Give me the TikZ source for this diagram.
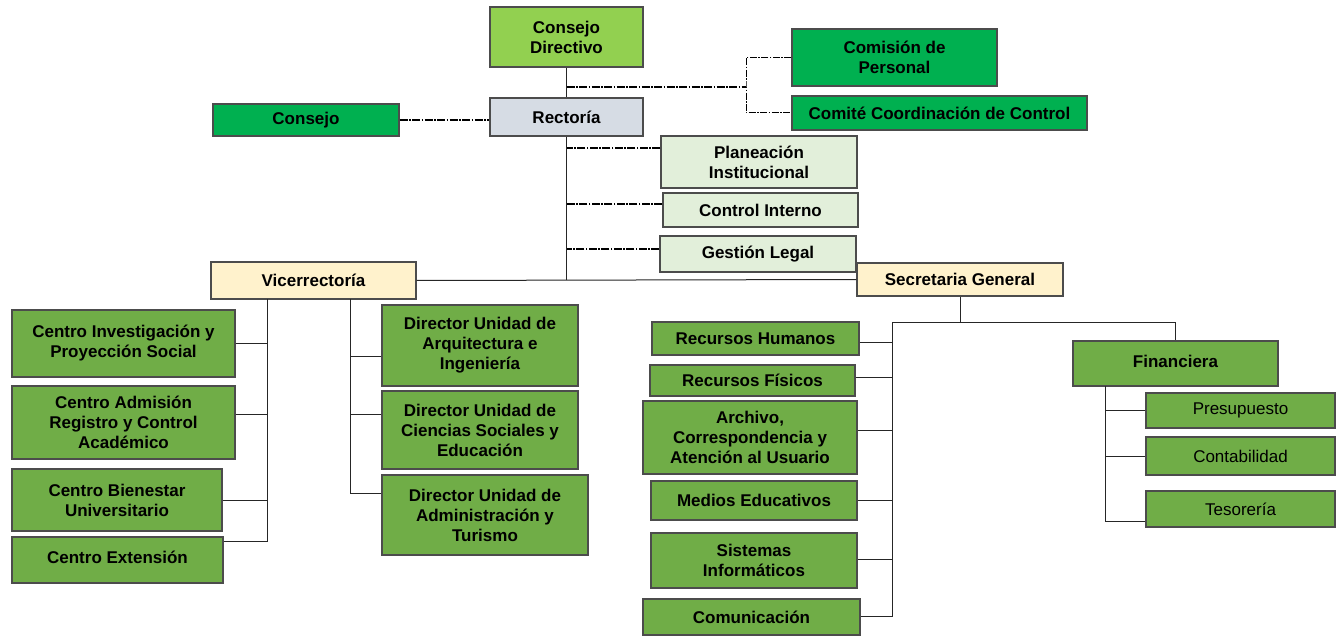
\documentclass[tikz,border=0pt]{standalone}
\usepackage{fontspec}
\setmainfont{Liberation Sans}
\definecolor{verde}{HTML}{70AD47}
\definecolor{verdeclaro}{HTML}{92D050}
\definecolor{verdefuerte}{HTML}{00B050}
\definecolor{gris}{HTML}{D6DCE4}
\definecolor{menta}{HTML}{E2EFDA}
\definecolor{crema}{HTML}{FFF2CC}
\begin{document}
\begin{tikzpicture}[x=1pt,y=-1pt,
  font=\fontsize{17}{20}\selectfont\bfseries,
  caja/.style={draw=black!70,line width=1.2pt,inner sep=0pt,align=center},
  unidad/.style={caja,fill=verde},
  directivo/.style={caja,fill=verdeclaro},
  externo/.style={caja,fill=verdefuerte},
  rector/.style={caja,fill=gris},
  apoyo/.style={caja,fill=menta},
  mando/.style={caja,fill=crema},
  enlace/.style={line width=1pt,black!85},
  asesor/.style={line width=2pt,dash pattern=on 8pt off 1.5pt on 1.5pt off 1.5pt},
  asesorfino/.style={line width=1pt,dash pattern=on 7pt off 1.5pt on 1.5pt off 1.5pt}]
\useasboundingbox (0,0) rectangle (1336,636);
% direccion
\node[directivo,minimum width=153pt,minimum height=60pt] (cd) at (566.5,37) {Consejo\\Directivo};
\node[rector,minimum width=153pt,minimum height=38pt] (rect) at (566.5,117) {Rectoría};
\node[externo,minimum width=186pt,minimum height=32pt] (consejo) at (306,120) {Consejo};
\node[externo,minimum width=205pt,minimum height=57pt] (comision) at (894.5,57.5) {Comisión de\\Personal};
\node[externo,minimum width=295pt,minimum height=34pt] (comite) at (939.5,113) {Comité Coordinación de Control};
\node[apoyo,minimum width=196pt,minimum height=52pt] (plan) at (759,162) {Planeación\\Institucional};
\node[apoyo,minimum width=195pt,minimum height=34pt] (ctrl) at (760.5,210) {Control Interno};
\node[apoyo,minimum width=196pt,minimum height=36pt] (legal) at (758,254) {Gestión Legal};
\node[mando,minimum width=205pt,minimum height=37pt] (vice) at (313.5,280.5) {Vicerrectoría};
\node[mando,minimum width=206pt,minimum height=33pt] (sg) at (960,279.5) {Secretaria General};
% vicerrectoria
\node[unidad,minimum width=223pt,minimum height=67pt] (cip) at (123.5,343.5) {Centro Investigación y\\Proyección Social};
\node[unidad,minimum width=223pt,minimum height=73pt] (cad) at (123.5,422.5) {Centro Admisión\\Registro y Control\\Académico};
\node[unidad,minimum width=210pt,minimum height=62pt] (cbu) at (117,500) {Centro Bienestar\\Universitario};
\node[unidad,minimum width=211pt,minimum height=46pt] (cex) at (117.5,560) {\raisebox{5pt}{Centro Extensión}};
\node[unidad,minimum width=196pt,minimum height=81pt] (dua) at (480,345.5) {Director Unidad de\\Arquitectura e\\Ingeniería};
\node[unidad,minimum width=196pt,minimum height=78pt] (dcs) at (480,430) {Director Unidad de\\Ciencias Sociales y\\Educación};
\node[unidad,minimum width=206pt,minimum height=80pt] (dat) at (485,515) {Director Unidad de\\Administración y\\Turismo};
% secretaria general
\node[unidad,minimum width=207pt,minimum height=33pt] (rh) at (755.5,338.5) {Recursos Humanos};
\node[unidad,minimum width=205pt,minimum height=31pt] (rf) at (752.5,380.5) {Recursos Físicos};
\node[unidad,minimum width=214pt,minimum height=73pt] (arc) at (750,437.5) {Archivo,\\Correspondencia y\\Atención al Usuario};
\node[unidad,minimum width=206pt,minimum height=39pt] (me) at (754,500.5) {Medios Educativos};
\node[unidad,minimum width=206pt,minimum height=55pt] (si) at (754,560.5) {Sistemas\\Informáticos};
\node[unidad,minimum width=217pt,minimum height=36pt] (com) at (751.5,617) {Comunicación};
\node[unidad,minimum width=205pt,minimum height=45pt] (fin) at (1175.5,363.5) {\raisebox{4pt}{Financiera}};
\node[unidad,font=\fontsize{17}{20}\selectfont,minimum width=189pt,minimum height=35pt] (pre) at (1240.5,410.5) {Presupuesto};
\node[unidad,font=\fontsize{17}{20}\selectfont,minimum width=189pt,minimum height=38pt] (cont) at (1240.5,456) {Contabilidad};
\node[unidad,font=\fontsize{17}{20}\selectfont,minimum width=189pt,minimum height=36pt] (tes) at (1240.5,509) {Tesorería};
% tronco
\draw[enlace] (cd.south) -- (rect.north);
\draw[enlace] (rect.south) -- (rect.south |- vice.east);
\draw[enlace] (vice.east) -- (sg.west);
% asesores
\coordinate (jc) at (746,87);
\draw[asesor] (cd.south |- jc) -- (jc);
\draw[asesorfino] (comision.west) -| (jc) |- (comite.west);
\draw[asesor] (consejo.east) -- (consejo.east -| rect.west);
\foreach \n/\s in {plan/14,ctrl/6,legal/5}{
  \coordinate (p) at ([yshift=\s pt]\n.west);
  \draw[asesor] (p) -- (p -| rect.south);
}
% ramas de vicerrectoria
\coordinate (vl) at (267,299);
\coordinate (vr) at (350,299);
\draw[enlace] ([yshift=19pt]cex.east) -| (vl);
\foreach \n/\s in {cip/0,cad/8.5,cbu/0}{
  \coordinate (p) at ([yshift=\s pt]\n.east);
  \draw[enlace] (p) -- (p -| vl);
}
\draw[enlace] ([yshift=22pt]dat.west) -| (vr);
\foreach \n/\s in {dua/-10.5,dcs/16}{
  \coordinate (p) at ([yshift=\s pt]\n.west);
  \draw[enlace] (p) -- (p -| vr);
}
% ramas de secretaria general
\coordinate (sgbus) at (892,323);
\draw[enlace] (sg.south) -- (sg.south |- sgbus);
\draw[enlace] (sgbus) -| (fin.north);
\draw[enlace] ([yshift=1pt]com.east) -| (sgbus);
\foreach \n/\s in {rh/-3.5,rf/3.5,arc/7.5,me/0,si/1.5}{
  \coordinate (p) at ([yshift=\s pt]\n.east);
  \draw[enlace] (p) -- (p -| sgbus);
}
\coordinate (fl) at (1105,386);
\draw[enlace] ([yshift=-12pt]tes.west) -| (fl);
\foreach \n in {pre,cont}
  \draw[enlace] (\n.west) -- (\n.west -| fl);
\end{tikzpicture}
\end{document}
